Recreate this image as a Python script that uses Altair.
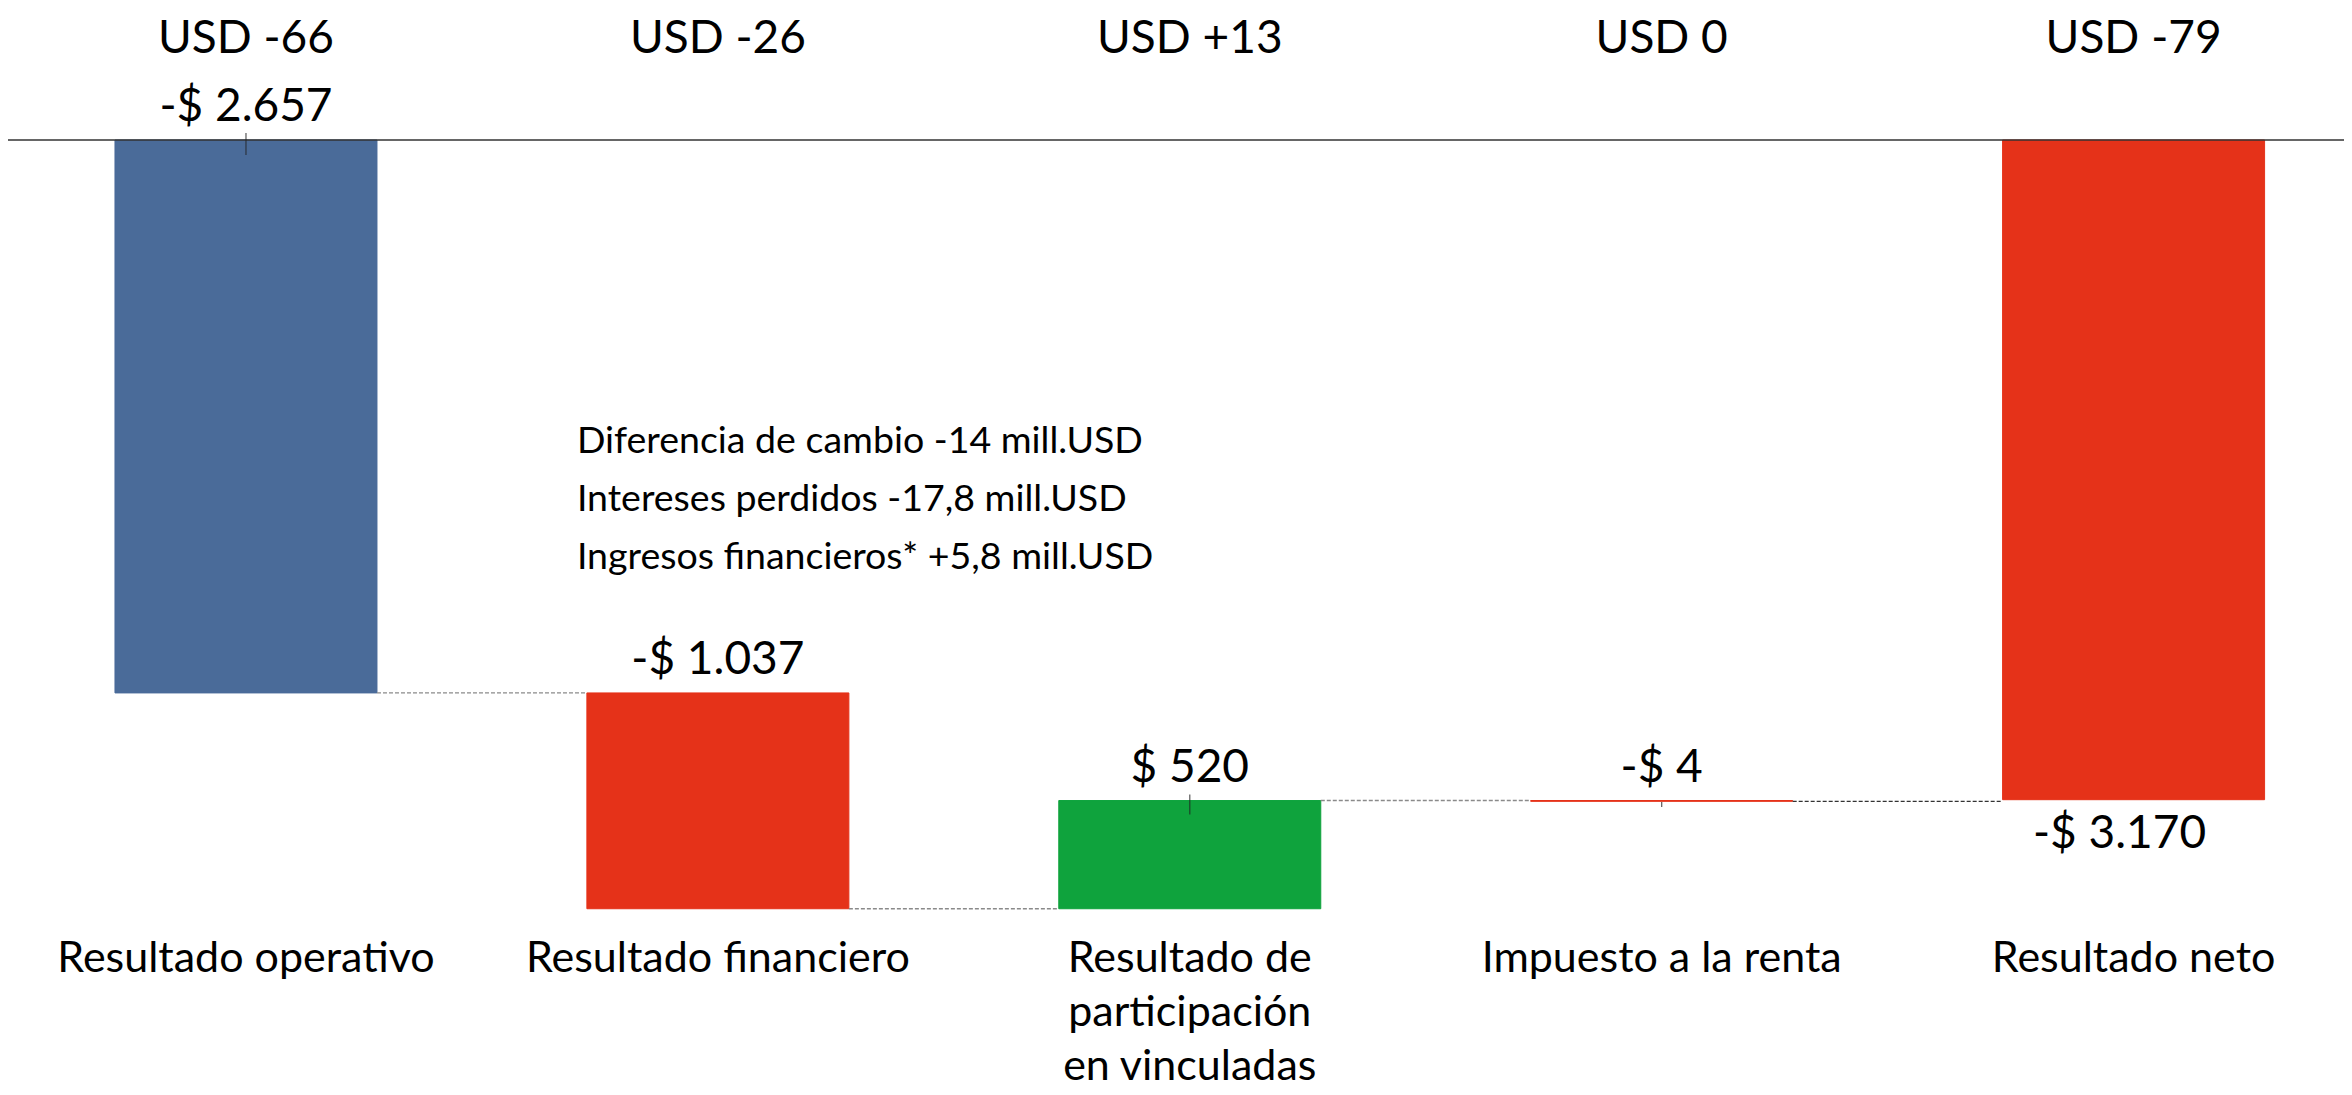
import altair as alt
import pandas as pd

# ---- data ----
categories = ["Resultado operativo", "Resultado financiero",
              "Resultado de participación en vinculadas",
              "Impuesto a la renta", "Resultado neto"]
category_lines = [["Resultado operativo"], ["Resultado financiero"],
                  ["Resultado de", "participación", "en vinculadas"],
                  ["Impuesto a la renta"], ["Resultado neto"]]
values = [-2657, -1037, 520, -4, -3170]
kinds = ["start", "delta", "delta", "delta", "total"]
value_labels = ["-$ 2.657", "-$ 1.037", "$ 520", "-$ 4", "-$ 3.170"]
usd_labels = ["USD -66", "USD -26", "USD +13", "USD 0", "USD -79"]
colors = ["#4A6B99", "#E53219", "#0FA33D", "#E53219", "#E53219"]
note_lines = ["Diferencia de cambio -14 mill.USD",
              "Intereses perdidos -17,8 mill.USD",
              "Ingresos financieros* +5,8 mill.USD"]
tick_bars = [0, 2, 3]
tick_sizes = [22, 20, 5]

# ---- build waterfall table ----
rows = []
run = 0
for i, (c, v, k) in enumerate(zip(categories, values, kinds)):
    if k == "total":
        start, end = 0, v
    else:
        start, end = run, run + v
        run = end
    rows.append(dict(idx=i, cat=c, start=start, end=end,
                     top=max(start, end), bottom=min(start, end),
                     label=value_labels[i], usd=usd_labels[i],
                     color=colors[i], kind=k,
                     lines=category_lines[i]))
df = pd.DataFrame(rows)
half = 0.2776
df["x0"] = df["idx"] - half
df["x1"] = df["idx"] + half
base = df["bottom"].min()
df["base"] = base

conn = pd.DataFrame([dict(x0=df.x1[i], x1=df.x0[i + 1], y=df.end[i],
                          col="#8A8A8A" if i < 3 else "#333333")
                     for i in range(len(df) - 1)])

ticks = pd.DataFrame([dict(idx=i, y=df.top[i], size=s)
                      for i, s in zip(tick_bars, tick_sizes)])

note = pd.DataFrame([dict(idx=1, y=df.top[1], text=note_lines)])

xs = alt.Scale(domain=[-0.5043, 4.4459], nice=False, zero=False)
ys = alt.Scale(domain=[-4541, 634.3], nice=False, zero=False)
FONT = "Lato"

bars = alt.Chart(df).mark_rect(strokeWidth=1).encode(
    x=alt.X("x0:Q", scale=xs, axis=None), x2="x1:Q",
    y=alt.Y("start:Q", scale=ys, axis=None), y2="end:Q",
    color=alt.Color("color:N", scale=None),
    stroke=alt.Stroke("color:N", scale=None))

zero = alt.Chart(pd.DataFrame({"y": [0]})).mark_rule(
    color="#333333", strokeWidth=1.5).encode(y=alt.Y("y:Q", scale=ys))

connectors = alt.Chart(conn).mark_rule(strokeDash=[4, 2], strokeWidth=1.3).encode(
    x=alt.X("x0:Q", scale=xs), x2="x1:Q", y=alt.Y("y:Q", scale=ys),
    color=alt.Color("col:N", scale=None))

tickmarks = alt.Chart(ticks).mark_tick(orient="vertical", color="#222222",
                                       thickness=1.3, yOffset=4).encode(
    x=alt.X("idx:Q", scale=xs), y=alt.Y("y:Q", scale=ys),
    size=alt.Size("size:Q", scale=None))

lab_above = alt.Chart(df[df.kind != "total"]).mark_text(
    font=FONT, fontSize=46, baseline="alphabetic", dy=-19, color="black").encode(
    x=alt.X("idx:Q", scale=xs), y=alt.Y("top:Q", scale=ys), text="label:N")

lab_below = alt.Chart(df[df.kind == "total"]).mark_text(
    font=FONT, fontSize=46, baseline="alphabetic", dy=48, dx=-14, color="black").encode(
    x=alt.X("idx:Q", scale=xs), y=alt.Y("bottom:Q", scale=ys), text="label:N")

usd = alt.Chart(df).mark_text(
    font=FONT, fontSize=46, baseline="alphabetic", dy=-87, color="black").encode(
    x=alt.X("idx:Q", scale=xs), y=alt.Y("zero:Q", scale=ys), text="usd:N"
).transform_calculate(zero="0")

cats = alt.Chart(df).mark_text(
    font=FONT, fontSize=43, baseline="alphabetic", dy=63, lineHeight=54,
    color="black").encode(
    x=alt.X("idx:Q", scale=xs), y=alt.Y("base:Q", scale=ys), text="lines")

notes = alt.Chart(note).mark_text(
    font=FONT, fontSize=37.5, baseline="alphabetic", align="left",
    dx=-141, dy=-240, lineHeight=58, color="black").encode(
    x=alt.X("idx:Q", scale=xs), y=alt.Y("y:Q", scale=ys), text="text")

chart = alt.layer(bars, zero, connectors, tickmarks, lab_above, lab_below,
                  usd, cats, notes).properties(
    width=2336, height=1077, autosize="none",
    padding={"left": 0, "top": 0, "right": 0, "bottom": 8}
).configure_view(stroke=None)

chart.save("out.html", embed_options={"renderer": "svg", "actions": False})
